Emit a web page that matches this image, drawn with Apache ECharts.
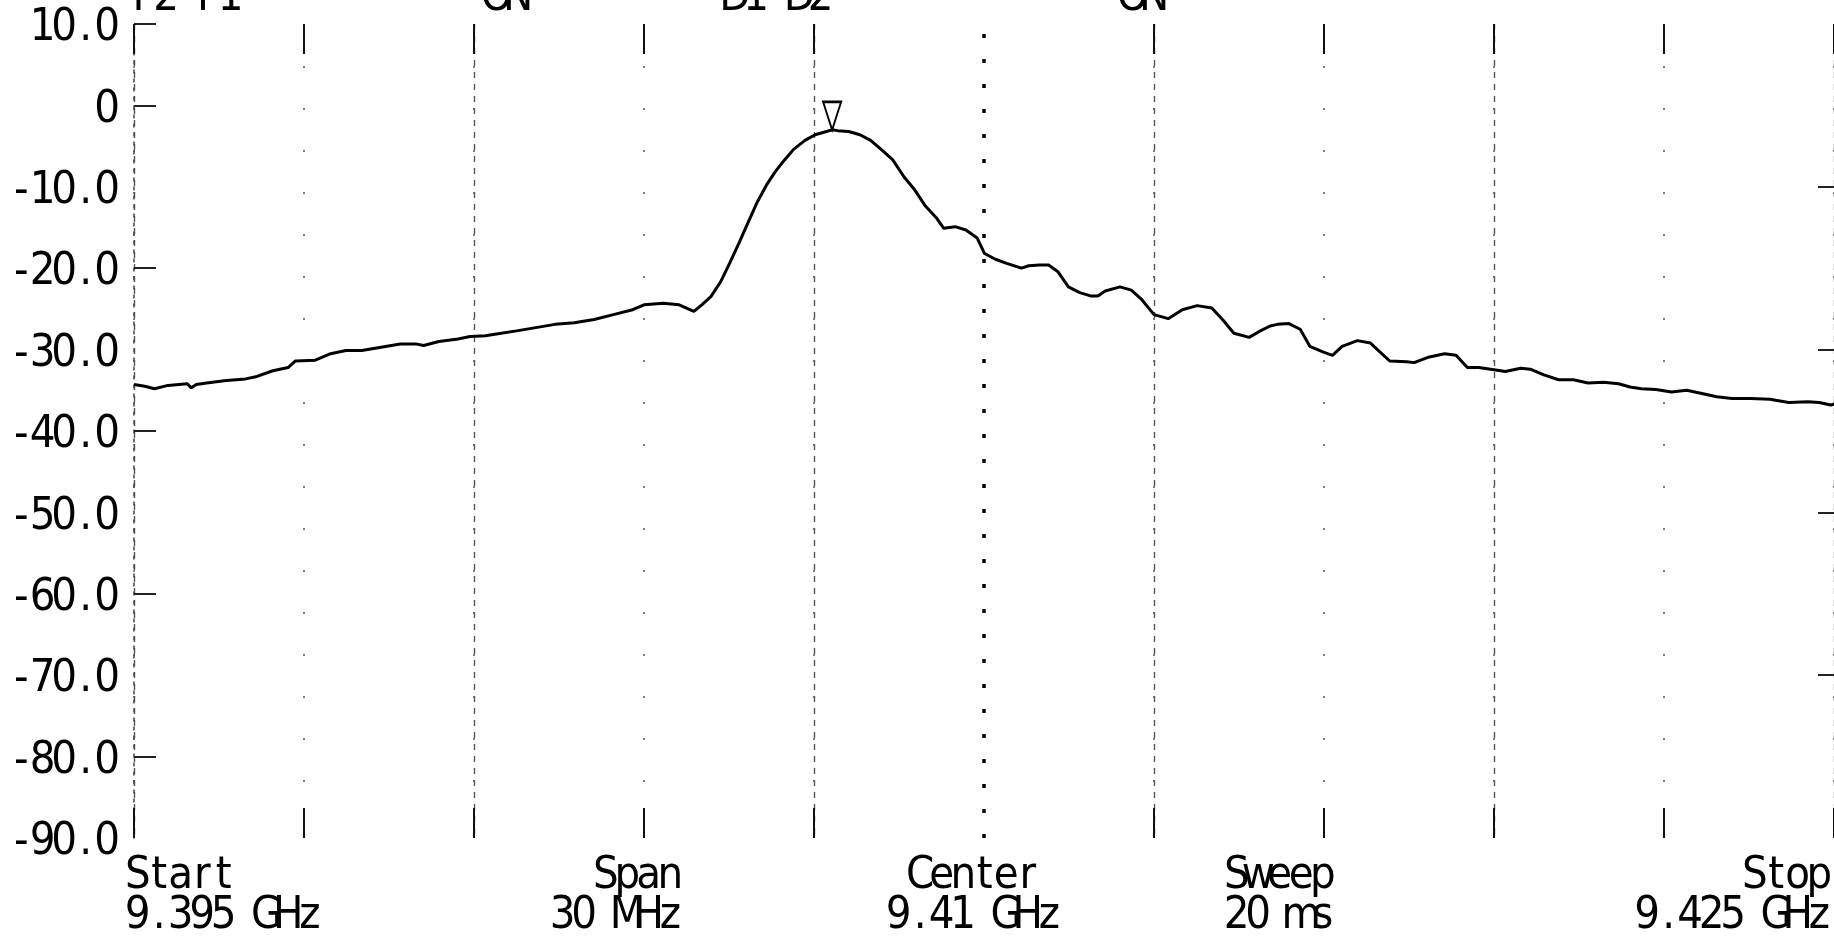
<!DOCTYPE html>
<html>
<head>
<meta charset="utf-8">
<script src="https://cdn.jsdelivr.net/npm/echarts@6/dist/echarts.min.js"></script>
<style>
  html, body { margin: 0; padding: 0; background: #fff; }
  #chart { width: 1834px; height: 940px; }
</style>
</head>
<body>
<div id="chart"></div>
<script>
// Sweep settings: 9.395 – 9.425 GHz, 30 MHz span, 3 MHz per division
const SPAN_MHZ = 30;
const DIV_MHZ = 3;

// Trace: frequency offset from start (MHz) and level (dB)
const offsetMHz = [
  0.00, 0.19, 0.36, 0.60, 0.94, 1.01, 1.10, 1.28, 1.63, 1.97,
  2.17, 2.45, 2.72, 2.85, 3.20, 3.47, 3.74, 4.02, 4.36, 4.70,
  4.97, 5.11, 5.38, 5.72, 5.93, 6.20, 6.48, 6.75, 7.09, 7.43,
  7.77, 8.12, 8.46, 8.80, 9.00, 9.34, 9.62, 9.75, 9.88, 10.02,
  10.18, 10.35, 10.51, 10.67, 10.83, 10.99, 11.16, 11.32, 11.48, 11.64,
  11.84, 12.02, 12.22, 12.32, 12.42, 12.61, 12.81, 13.00, 13.20, 13.39,
  13.59, 13.78, 13.97, 14.17, 14.29, 14.49, 14.68, 14.88, 15.01, 15.20,
  15.40, 15.66, 15.79, 15.98, 16.14, 16.30, 16.49, 16.69, 16.88, 17.01,
  17.14, 17.40, 17.60, 17.79, 18.00, 18.25, 18.50, 18.76, 19.02, 19.22,
  19.41, 19.68, 19.85, 20.05, 20.18, 20.38, 20.58, 20.75, 20.99, 21.15,
  21.32, 21.59, 21.82, 21.99, 22.16, 22.46, 22.59, 22.86, 23.13, 23.33,
  23.53, 23.73, 24.03, 24.20, 24.47, 24.64, 24.88, 25.14, 25.40, 25.66,
  25.93, 26.20, 26.40, 26.60, 26.86, 27.13, 27.40, 27.67, 27.93, 28.20,
  28.53, 28.87, 29.20, 29.54, 29.74, 29.94, 30.00
];
const levelDb = [
  -34.3, -34.5, -34.8, -34.4, -34.2, -34.7, -34.3, -34.1, -33.8, -33.6,
  -33.3, -32.6, -32.2, -31.4, -31.3, -30.5, -30.1, -30.1, -29.7, -29.3,
  -29.3, -29.5, -29.0, -28.7, -28.4, -28.3, -28.0, -27.7, -27.3, -26.9,
  -26.7, -26.3, -25.7, -25.1, -24.5, -24.3, -24.5, -24.9, -25.3, -24.5,
  -23.5, -21.7, -19.4, -17.0, -14.5, -12.0, -9.8, -8.1, -6.7, -5.4,
  -4.3, -3.6, -3.2, -3.0, -3.1, -3.2, -3.6, -4.3, -5.5, -6.7,
  -8.8, -10.4, -12.4, -13.9, -15.1, -14.9, -15.3, -16.3, -18.2, -18.9,
  -19.4, -20.0, -19.7, -19.6, -19.6, -20.4, -22.3, -23.0, -23.4, -23.4,
  -22.8, -22.3, -22.7, -23.9, -25.7, -26.2, -25.1, -24.6, -24.9, -26.4,
  -28.0, -28.5, -27.8, -27.1, -26.9, -26.8, -27.5, -29.6, -30.3, -30.7,
  -29.6, -28.9, -29.2, -30.3, -31.4, -31.5, -31.6, -30.9, -30.5, -30.7,
  -32.2, -32.2, -32.5, -32.7, -32.3, -32.4, -33.1, -33.7, -33.7, -34.1,
  -34.0, -34.2, -34.6, -34.8, -34.9, -35.2, -35.0, -35.4, -35.8, -36.0,
  -36.0, -36.1, -36.5, -36.4, -36.5, -36.8, -36.7
];

// Level axis ticks and their printed labels
const levelTicks = [10, 0, -10, -20, -30, -40, -50, -60, -70, -80, -90];
const levelTickLabels = ['10.0', '0', '-10.0', '-20.0', '-30.0', '-40.0', '-50.0', '-60.0', '-70.0', '-80.0', '-90.0'];

// Header annotations (printed above the graticule, partly off the sheet)
const headerTexts = ['P2 P1', 'ON', 'D1 D2', 'ON'];

// Footer annotations
const footerTitles = ['Start', 'Span', 'Center', 'Sweep', 'Stop'];
const footerValues = ['9.395 GHz', '30 MHz', '9.41 GHz', '20 ms', '9.425 GHz'];

const FONT = "'Liberation Sans Narrow', 'DejaVu Sans Condensed', 'Liberation Sans', sans-serif";
const CELL = 21.5;        // fixed character pitch of the plotter font
const FONT_SIZE = 45;

// Break a string into fixed-width rich-text cells so it prints on a monospace pitch
function cells(str) {
  return str.split('').map(ch => '{c|' + (ch === ' ' ? '\u00a0' : ch) + '}').join('');
}
const cellRich = {
  c: { width: CELL, align: 'center', fontFamily: FONT, fontSize: FONT_SIZE, color: '#000', lineHeight: FONT_SIZE }
};

function textEl(str, x, y, align) {
  return {
    type: 'text',
    x: x, y: y,
    silent: true,
    style: {
      text: cells(str),
      rich: cellRich,
      align: align,
      verticalAlign: 'middle',
      fill: '#000'
    }
  };
}

const traceData = offsetMHz.map((f, i) => [f, levelDb[i]]);

// Text placement
const headerX = [134, 486, 724, 1122];
const footerLayout = [
  { x: 127, align: 'left' },
  { x: 681, align: 'right' },
  { x: 974, align: 'center' },
  { x: 1226, align: 'left' },
  { x: 1830, align: 'right' }
];

const graphics = [];
headerTexts.forEach((t, i) => graphics.push(textEl(t, headerX[i], -2, 'left')));
footerTitles.forEach((t, i) => {
  graphics.push(textEl(t, footerLayout[i].x, 876, footerLayout[i].align));
  graphics.push(textEl(footerValues[i], footerLayout[i].x, 916, footerLayout[i].align));
});

const divTicks = [];
for (let v = 0; v <= SPAN_MHZ; v += DIV_MHZ) if (v !== SPAN_MHZ / 2) divTicks.push(v);

const chart = echarts.init(document.getElementById('chart'), null, { renderer: 'canvas' });

chart.setOption({
  animation: false,
  backgroundColor: '#ffffff',
  grid: { left: 134, right: 0, top: 24, bottom: 102, containLabel: false },
  xAxis: [
    {
      type: 'value', min: 0, max: SPAN_MHZ, interval: DIV_MHZ, position: 'bottom',
      axisLine: { show: false, onZero: false },
      axisLabel: { show: false },
      axisTick: { show: true, inside: true, length: 30, customValues: divTicks, lineStyle: { color: '#111', width: 2 } },
      splitLine: { show: true, lineStyle: { color: '#555', width: 1.5, type: [2, 40] } }
    },
    {
      type: 'value', min: 0, max: SPAN_MHZ, interval: DIV_MHZ, position: 'top',
      axisLine: { show: false, onZero: false },
      axisLabel: { show: false },
      axisTick: { show: true, inside: true, length: 30, customValues: divTicks, lineStyle: { color: '#111', width: 2 } },
      splitLine: { show: false }
    },
    {
      type: 'value', min: 0, max: SPAN_MHZ, interval: DIV_MHZ * 2, position: 'bottom',
      axisLine: { show: false, onZero: false },
      axisLabel: { show: false },
      axisTick: { show: false },
      splitLine: { show: true, lineStyle: { color: '#555', width: 1.4, type: [6, 6] } }
    }
  ],
  yAxis: [
    {
      type: 'value', min: -90, max: 10, interval: 10, position: 'left',
      axisLine: { show: true, onZero: false, lineStyle: { color: '#444', width: 1.5, type: [3, 6] } },
      axisTick: { show: true, inside: true, length: 22, customValues: [10, 0, -20, -40, -60, -80], lineStyle: { color: '#222', width: 2 } },
      axisLabel: {
        show: true,
        margin: 16,
        padding: [9, 0, 0, 0],
        formatter: v => {
          const i = levelTicks.indexOf(v);
          return i >= 0 ? cells(levelTickLabels[i]) : '';
        },
        rich: cellRich
      },
      splitLine: { show: false }
    },
    {
      type: 'value', min: -90, max: 10, interval: 10, position: 'right',
      axisLine: { show: false, onZero: false },
      axisTick: { show: true, inside: true, length: 16, customValues: [-10, -30, -50, -70], lineStyle: { color: '#222', width: 2 } },
      axisLabel: { show: false },
      splitLine: { show: false }
    }
  ],
  series: [
    {
      type: 'line',
      data: traceData,
      xAxisIndex: 0,
      yAxisIndex: 0,
      showSymbol: false,
      symbol: 'none',
      clip: true,
      lineStyle: { color: '#000', width: 3 },
      markPoint: {
        silent: true,
        symbol: 'path://M0,0L20,0L10,32Z',
        symbolSize: [18, 28],
        symbolOffset: [0, '-50%'],
        itemStyle: { color: '#fff', borderColor: '#000', borderWidth: 2.2 },
        label: { show: false },
        data: [{ type: 'max' }]
      },
      markLine: {
        silent: true,
        symbol: ['none', 'none'],
        label: { show: false },
        lineStyle: { color: '#000', width: 3.5, type: [4, 21] },
        data: [{ xAxis: SPAN_MHZ / 2 }]
      }
    }
  ],
  graphic: graphics
});
</script>
</body>
</html>
